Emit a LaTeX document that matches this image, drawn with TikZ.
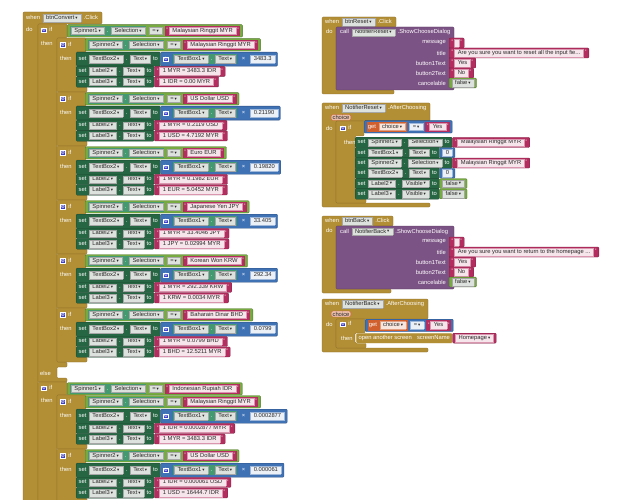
\documentclass[tikz,border=0pt]{standalone}
\usepackage{fontspec}
\usepackage{xcolor}
\setmainfont{Liberation Sans}
\newfontfamily\symf{DejaVu Sans}
\usetikzlibrary{positioning}
\definecolor{ctrlGold}{RGB}{178,142,52}
\definecolor{setGreen}{RGB}{38,102,67}
\definecolor{getGreen}{RGB}{67,153,112}
\definecolor{logicGreen}{RGB}{119,171,65}
\definecolor{textRose}{RGB}{179,45,94}
\definecolor{mathBlue}{RGB}{63,113,181}
\definecolor{callPurple}{RGB}{124,83,133}
\definecolor{varOrange}{RGB}{208,95,45}
\definecolor{gearBlue}{RGB}{62,62,196}
\definecolor{fieldGrey}{RGB}{222,226,222}
\definecolor{fieldInk}{RGB}{40,40,40}
\newcommand{\Fs}{\fontsize{5.8}{6.4}\selectfont}
\newcommand{\Sp}{\hspace{2.6pt}}
\newcommand{\Arr}{\kern0.9pt{\symf\fontsize{4.4}{4.4}\selectfont\raisebox{0.2pt}{▾}}}
\newcommand{\FldBox}[3]{{\setlength{\fboxsep}{0.6pt}\setlength{\fboxrule}{0.3pt}%
  \fcolorbox{#1}{#2}{\color{fieldInk}\rule[-1.5pt]{0pt}{6pt}\kern2.6pt#3\kern2.6pt}}}
\newcommand{\Dd}[1]{\FldBox{black!35}{fieldGrey}{#1\Arr}}
\newcommand{\Sf}[1]{\FldBox{textRose!50}{textRose!12}{#1}}
\newcommand{\Nf}[1]{\FldBox{mathBlue!50}{mathBlue!10}{#1}}
\newcommand{\Vf}[1]{\FldBox{varOrange!60}{varOrange!15}{#1\Arr}}
\newcommand{\Qt}{{\fontsize{4.8}{4.8}\selectfont\raisebox{0.8pt}{"}}}
\newcommand{\Blk}[2]{{\setlength{\fboxsep}{1.3pt}\colorbox{#1}{\color{white}#2}}}
\newcommand{\Get}[2]{\Blk{getGreen}{\Dd{#1}\Sp.\Sp\Dd{#2}}}
\newcommand{\Str}[1]{\Blk{textRose}{\Qt\kern1pt\Sf{#1}\kern1pt\Qt}}
\newcommand{\Gear}{{\setlength{\fboxsep}{0.3pt}\setlength{\fboxrule}{0.4pt}%
  \fcolorbox{white}{gearBlue}{\color{white}\symf\fontsize{4.6}{4.6}\selectfont ⚙}}}
% one currency test inside the big if
\newcommand{\RateIf}[6]{%
  \path[ctrlblk] (57,#1) -- (86,#1) -- (86,#1+14) -- (76,#1+14) -- (76,#1+49) -- (87,#1+49) -- (87,#1+54) -- (57,#1+54) -- cycle;
  \node[lbl] (#2If) at (60,#1+6.5) {\Gear\Sp if};
  \node[lbl] (#2Then) at (60,#1+20) {then};
  \node[logicblk,anchor=north west] (#2Cond) at (85,#1+0.5) {\Get{Spinner2}{Selection}\Sp\Dd{=}\Sp\Str{#3}};
  \node[setblk,minimum height=14pt] (#2Box) at (76,#1+14) {set\Sp\Dd{TextBox2}\Sp.\Sp\Dd{Text}\Sp to};
  \node[mathblk,anchor=west,minimum height=14pt] (#2Mul) at (#2Box.east) {\Gear\hspace{4pt}\Get{TextBox1}{Text}\hspace{5pt}×\hspace{5pt}\Nf{#4}};
  \node[setblk] (#2LabA) at (76,#1+28) {set\Sp\Dd{Label2}\Sp.\Sp\Dd{Text}\Sp to};
  \node[strblk] (#2StrA) at (#2LabA.east) {\Qt\kern1pt\Sf{#5}\kern1pt\Qt};
  \node[setblk] (#2LabB) at (76,#1+38.5) {set\Sp\Dd{Label3}\Sp.\Sp\Dd{Text}\Sp to};
  \node[strblk] (#2StrB) at (#2LabB.east) {\Qt\kern1pt\Sf{#6}\kern1pt\Qt};
}
% button click that opens a choose dialog
\newcommand{\DlgEvent}[6]{%
  \path[ctrlblk] (322,#1) -- (#6,#1) -- (#6,#1+10) -- (336,#1+10) -- (336,#1+73) -- (#6-2,#1+73) -- (#6-2,#1+77) -- (322,#1+77) -- cycle;
  \node[lbl] (#2Head) at (325,#1+5) {when\Sp\Dd{#3}\Sp.Click};
  \node[lbl] (#2Do) at (326,#1+14.5) {do};
  \path[callblk] (336,#1+10) rectangle (454,#1+73);
  \node[lbl] (#2Call) at (340,#1+15.5) {call\Sp\Dd{#4}\Sp.ShowChooseDialog};
  \foreach \k/\rowtxt in {0/message,1/title,2/button1Text,3/button2Text,4/cancelable}
    \node[lbl,anchor=east] (#2A\k) at (446,#1+26+10*\k) {\rowtxt};
  \node[strblk] (#2V0) at (449,#1+26) {\Qt\kern1pt{\setlength{\fboxsep}{0.6pt}\setlength{\fboxrule}{0.3pt}\fcolorbox{textRose!50}{textRose!12}{\rule[-1.5pt]{0pt}{6pt}\kern3pt}}\kern1pt\Qt};
  \node[strblk] (#2V1) at (449,#1+36) {\Qt\kern1pt\Sf{#5}\kern1pt\Qt};
  \node[strblk] (#2V2) at (449,#1+46) {\Qt\kern1pt\Sf{Yes}\kern1pt\Qt};
  \node[strblk] (#2V3) at (449,#1+56) {\Qt\kern1pt\Sf{No}\kern1pt\Qt};
  \node[logicblk,anchor=west] (#2V4) at (449,#1+66) {\Dd{false}};
}

\begin{document}
\begin{tikzpicture}[x=1pt,y=-1pt,font=\Fs,
  ctrlblk/.style={fill=ctrlGold,draw=ctrlGold!75!black,line width=0.3pt,rounded corners=1pt},
  callblk/.style={fill=callPurple,draw=callPurple!70!black,line width=0.3pt,rounded corners=1pt},
  lbl/.style={text=white,inner sep=0pt,anchor=west},
  blk/.style={text=white,inner xsep=2.5pt,inner ysep=1pt,rounded corners=1pt,line width=0.3pt},
  setblk/.style={blk,fill=setGreen,draw=setGreen!70!black,anchor=north west,minimum height=10.5pt},
  strblk/.style={blk,fill=textRose,draw=textRose!70!black,anchor=west,minimum height=10pt},
  mathblk/.style={blk,fill=mathBlue,draw=mathBlue!70!black},
  logicblk/.style={blk,fill=logicGreen,draw=logicGreen!70!black},
  openblk/.style={blk,fill=ctrlGold,draw=white!75!ctrlGold,anchor=north west,minimum height=10pt},
  argpill/.style={fill=varOrange!40!white,draw=varOrange,text=fieldInk,inner xsep=1.5pt,inner ysep=0.8pt,rounded corners=1.5pt,line width=0.3pt}]
\useasboundingbox (0,0) rectangle (618,500);
\clip (0,0) rectangle (618,500);

% when btnConvert.Click
\path[ctrlblk] (23,12) -- (102,12) -- (102,24) -- (38,24) -- (38,505) -- (23,505) -- cycle;
\node[lbl] (cvHead) at (26,18) {when\Sp\Dd{btnConvert}\Sp.Click};
\node[lbl] (cvDo) at (26,29) {do};

% if Spinner1 = MYR
\path[ctrlblk] (38,24) -- (67,24) -- (67,38) -- (57,38) -- (57,362) -- (67,362) -- (67,367) -- (57,367) -- (57,378) -- (67,378) -- (67,382) -- (38,382) -- cycle;
\node[lbl] (ifA) at (41,30) {\Gear\Sp if};
\node[lbl] (thenA) at (41,43) {then};
\node[lbl] (elseA) at (40,373) {else};
\node[logicblk,anchor=north west] (condA) at (67,24.5) {\Get{Spinner1}{Selection}\Sp\Dd{=}\Sp\Str{Malaysian Ringgit MYR}};
\RateIf{38}{a}{Malaysian Ringgit MYR}{3483.3}{1 MYR = 3483.3 IDR}{1 IDR = 0.00 MYR}
\RateIf{92}{b}{US Dollar USD}{0.21190}{1 MYR = 0.2119 USD}{1 USD = 4.7192 MYR}
\RateIf{146}{c}{Euro EUR}{0.19820}{1 MYR = 0.1982 EUR}{1 EUR = 5.0452 MYR}
\RateIf{200}{d}{Japanese Yen JPY}{33.405}{1 MYR = 33.4046 JPY}{1 JPY = 0.02994 MYR}
\RateIf{254}{e}{Korean Won KRW}{292.34}{1 MYR = 292.339 KRW}{1 KRW = 0.0034 MYR}
\RateIf{308}{f}{Baharain Dinar BHD}{0.0799}{1 MYR = 0.0799 BHD}{1 BHD = 12.5211 MYR}

% if Spinner1 = IDR
\path[ctrlblk] (38,382) -- (67,382) -- (67,395) -- (57,395) -- (57,505) -- (38,505) -- cycle;
\node[lbl] (ifB) at (41,388) {\Gear\Sp if};
\node[lbl] (thenB) at (41,400) {then};
\node[logicblk,anchor=north west] (condB) at (67,382.5) {\Get{Spinner1}{Selection}\Sp\Dd{=}\Sp\Str{Indonesian Rupiah IDR}};
\RateIf{395}{g}{Malaysian Ringgit MYR}{0.0002877}{1 IDR = 0.0002877 MYR}{1 MYR = 3483.3 IDR}
\RateIf{449}{h}{US Dollar USD}{0.000061}{1 IDR = 0.000061 USD}{1 USD = 16444.7 IDR}

% reset and back buttons
\DlgEvent{17}{rs}{btnReset}{NotifierReset}{Are you sure you want to reset all the input fie...}{396}
\DlgEvent{216}{bk}{btnBack}{NotifierBack}{Are you sure you want to return to the homepage ...}{393}

% when NotifierReset.AfterChoosing
\path[ctrlblk] (322,103) -- (430,103) -- (430,121) -- (336,121) -- (336,203) -- (430,203) -- (430,207) -- (322,207) -- cycle;
\node[lbl] (nrHead) at (325,108) {when\Sp\Dd{NotifierReset}\Sp.AfterChoosing};
\node[argpill] (nrArg) at (341,117.5) {choice};
\node[lbl] (nrDo) at (326,128) {do};
\path[ctrlblk] (336,121) -- (364,121) -- (364,136) -- (355,136) -- (355,198) -- (366,198) -- (366,203) -- (336,203) -- cycle;
\node[lbl] (nrIf) at (340,128) {\Gear\Sp if};
\node[lbl] (nrThen) at (344,142) {then};
\node[mathblk,anchor=north west] (nrCond) at (364,120.5) {\Blk{varOrange}{get\Sp\Vf{choice}}\Sp\Nf{=\Arr}\Sp\Str{Yes}};
\node[setblk] (nrS1) at (355,137) {set\Sp\Dd{Spinner1}\Sp.\Sp\Dd{Selection}\Sp to};
\node[strblk] (nrV1) at (nrS1.east) {\Qt\kern1pt\Sf{Malaysian Ringgit MYR}\kern1pt\Qt};
\node[setblk] (nrS2) at (355,147.3) {set\Sp\Dd{TextBox1}\Sp.\Sp\Dd{Text}\Sp to};
\node[mathblk,anchor=west] (nrV2) at (nrS2.east) {\Nf{0}};
\node[setblk] (nrS3) at (355,157.6) {set\Sp\Dd{Spinner2}\Sp.\Sp\Dd{Selection}\Sp to};
\node[strblk] (nrV3) at (nrS3.east) {\Qt\kern1pt\Sf{Malaysian Ringgit MYR}\kern1pt\Qt};
\node[setblk] (nrS4) at (355,167.9) {set\Sp\Dd{TextBox2}\Sp.\Sp\Dd{Text}\Sp to};
\node[mathblk,anchor=west] (nrV4) at (nrS4.east) {\Nf{0}};
\node[setblk] (nrS5) at (355,178.2) {set\Sp\Dd{Label2}\Sp.\Sp\Dd{Visible}\Sp to};
\node[logicblk,anchor=west] (nrV5) at (nrS5.east) {\Dd{false}};
\node[setblk] (nrS6) at (355,188.5) {set\Sp\Dd{Label3}\Sp.\Sp\Dd{Visible}\Sp to};
\node[logicblk,anchor=west] (nrV6) at (nrS6.east) {\Dd{false}};

% when NotifierBack.AfterChoosing
\path[ctrlblk] (322,299) -- (428,299) -- (428,319) -- (336,319) -- (336,348) -- (428,348) -- (428,352) -- (322,352) -- cycle;
\node[lbl] (nbHead) at (325,304) {when\Sp\Dd{NotifierBack}\Sp.AfterChoosing};
\node[argpill] (nbArg) at (341,314) {choice};
\node[lbl] (nbDo) at (326,324) {do};
\path[ctrlblk] (336,319) -- (365,319) -- (365,333) -- (355,333) -- (355,343) -- (366,343) -- (366,348) -- (336,348) -- cycle;
\node[lbl] (nbIf) at (340,324) {\Gear\Sp if};
\node[lbl] (nbThen) at (341,338) {then};
\node[mathblk,anchor=north west] (nbCond) at (365,319) {\Blk{varOrange}{get\Sp\Vf{choice}}\Sp\Nf{=\Arr}\Sp\Str{Yes}};
\node[openblk] (nbOpen) at (356,333) {open another screen\Sp\Sp screenName};
\node[strblk] (nbScr) at (nbOpen.east) {\Sf{Homepage\Arr}};
\end{tikzpicture}
\end{document}
